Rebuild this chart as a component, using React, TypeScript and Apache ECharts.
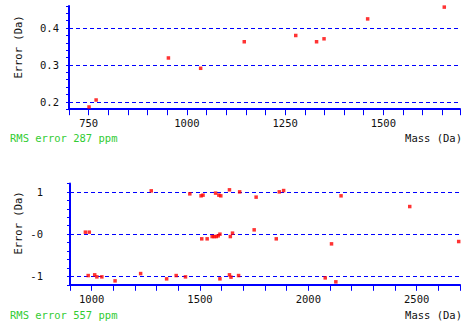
import React, { useEffect, useRef } from "react";
import * as echarts from "echarts";

// Top panel: mass (Da) vs error (Da)
const topMass = [751, 769, 953, 1035, 1146, 1277, 1330, 1349, 1460, 1655];
const topError = [0.186, 0.205, 0.319, 0.291, 0.363, 0.38, 0.363, 0.371, 0.425, 0.457];
const topGrid = [0.2, 0.3, 0.4];

// Bottom panel
const bottomMass = [
  971, 989, 984, 1014, 1024, 1047, 1108, 1226, 1275, 1346, 1390, 1433, 1453, 1505, 1514,
  1508, 1533, 1556, 1565, 1575, 1584, 1592, 1572, 1587, 1596, 1592, 1636, 1640, 1650, 1636,
  1643, 1683, 1678, 1759, 1750, 1852, 1866, 1886, 2078, 2107, 2127, 2151, 2468, 2694,
];
const bottomError = [
  0.047, 0.047, -0.981, -0.964, -1.012, -1.012, -1.107, -0.934, 1.026, -1.059, -0.981, -1.012,
  0.955, 0.908, 0.924, -0.111, -0.111, -0.057, -0.057, -0.057, -0.04, 0.0, 0.972, 0.924, 0.908,
  -1.059, 1.05, -0.057, 0.024, -0.964, -1.019, 1.002, -0.981, 0.877, 0.102, -0.111, 1.002, 1.033,
  -1.036, -0.23, -1.13, 0.908, 0.654, -0.175,
];
const bottomGrid = [-1, 0, 1];

const topRms = "RMS error 287 ppm";
const bottomRms = "RMS error 557 ppm";
const yName = "Error (Da)";
const xName = "Mass (Da)";

const FONT = "DejaVu Sans Mono";
const BLUE = "#0000ff";
const GREEN = "#33cc33";

function near(v: number, step: number) {
  return Math.abs(v / step - Math.round(v / step)) < 1e-6;
}

export default function App() {
  const ref = useRef<HTMLDivElement>(null);
  useEffect(() => {
    if (!ref.current) return;
    const chart = echarts.init(ref.current, null, { renderer: "svg", width: 463, height: 321 });
    const axisLine = { show: true, onZero: false, lineStyle: { color: BLUE, width: 2 } };
    const labelStyle = { fontFamily: FONT, fontSize: 10.5, color: "#111" };
    const gridLine = (vals: number[]) => ({
      silent: true,
      symbol: ["none", "none"],
      label: { show: false },
      lineStyle: { color: BLUE, type: [4, 3], width: 1 },
      data: vals.map((v) => ({ yAxis: v })),
    });
    chart.setOption({
      animation: false,
      backgroundColor: "#ffffff",
      grid: [
        { left: 69, right: 0, top: 6, height: 103.2 },
        { left: 70, right: 0, top: 183.5, height: 101.3 },
      ],
      xAxis: [
        {
          gridIndex: 0,
          type: "value",
          min: 700,
          max: 1695,
          interval: 50,
          axisLine,
          axisTick: { show: true, length: 6, lineStyle: { color: BLUE, width: 1 } },
          splitLine: { show: false },
          axisLabel: {
            ...labelStyle,
            margin: 8,
            formatter: (v: number) => (near(v, 250) ? String(v) : ""),
          },
        },
        {
          gridIndex: 1,
          type: "value",
          min: 900,
          max: 2700,
          interval: 100,
          axisLine,
          axisTick: { show: true, length: 6, lineStyle: { color: BLUE, width: 1 } },
          splitLine: { show: false },
          axisLabel: {
            ...labelStyle,
            margin: 9,
            formatter: (v: number) => (near(v, 500) ? String(v) : ""),
          },
        },
      ],
      yAxis: [
        {
          gridIndex: 0,
          type: "value",
          min: 0.18,
          max: 0.46,
          interval: 0.02,
          axisLine,
          axisTick: { show: true, length: 3, lineStyle: { color: BLUE, width: 1 } },
          splitLine: { show: false },
          axisLabel: {
            ...labelStyle,
            margin: 10,
            formatter: (v: number) => (near(v, 0.1) ? v.toFixed(1) : ""),
          },
        },
        {
          gridIndex: 1,
          type: "value",
          min: -1.2,
          max: 1.2,
          interval: 0.2,
          axisLine,
          axisTick: { show: true, length: 3, lineStyle: { color: BLUE, width: 1 } },
          splitLine: { show: false },
          axisLabel: {
            ...labelStyle,
            margin: 27,
            formatter: (v: number) => {
              if (!near(v, 1)) return "";
              const r = Math.round(v);
              return r === 0 ? "-0" : String(r);
            },
          },
        },
      ],
      series: [
        {
          type: "scatter",
          xAxisIndex: 0,
          yAxisIndex: 0,
          data: [],
          z: 1,
          markLine: gridLine(topGrid),
        },
        {
          type: "scatter",
          xAxisIndex: 1,
          yAxisIndex: 1,
          data: [],
          z: 1,
          markLine: gridLine(bottomGrid),
        },
        {
          type: "scatter",
          xAxisIndex: 0,
          yAxisIndex: 0,
          symbol: "rect",
          symbolSize: 3.5,
          z: 5,
          itemStyle: { color: "#ff0000" },
          data: topMass.map((m, i) => [m, topError[i]]),
        },
        {
          type: "scatter",
          xAxisIndex: 1,
          yAxisIndex: 1,
          symbol: "rect",
          symbolSize: 3.5,
          z: 5,
          itemStyle: { color: "#ff0000" },
          data: bottomMass.map((m, i) => [m, bottomError[i]]),
        },
      ],
      graphic: [
        {
          type: "text",
          x: 18,
          y: 47,
          rotation: Math.PI / 2,
          style: { text: yName, font: `10.5px "${FONT}"`, fill: "#111", align: "center", verticalAlign: "middle" },
        },
        {
          type: "text",
          x: 18,
          y: 223,
          rotation: Math.PI / 2,
          style: { text: yName, font: `10.5px "${FONT}"`, fill: "#111", align: "center", verticalAlign: "middle" },
        },
        {
          type: "text",
          x: 462,
          y: 138,
          style: { text: xName, font: `10.5px "${FONT}"`, fill: "#111", align: "right", verticalAlign: "middle" },
        },
        {
          type: "text",
          x: 462,
          y: 315,
          style: { text: xName, font: `10.5px "${FONT}"`, fill: "#111", align: "right", verticalAlign: "middle" },
        },
        {
          type: "text",
          x: 10,
          y: 138,
          style: { text: topRms, font: `10.5px "${FONT}"`, fill: GREEN, align: "left", verticalAlign: "middle" },
        },
        {
          type: "text",
          x: 10,
          y: 315,
          style: { text: bottomRms, font: `10.5px "${FONT}"`, fill: GREEN, align: "left", verticalAlign: "middle" },
        },
      ],
    });
    return () => chart.dispose();
  }, []);
  return (
    <div
      ref={ref}
      style={{ position: "fixed", left: 0, top: 0, width: 463, height: 321, background: "#fff" }}
    />
  );
}
